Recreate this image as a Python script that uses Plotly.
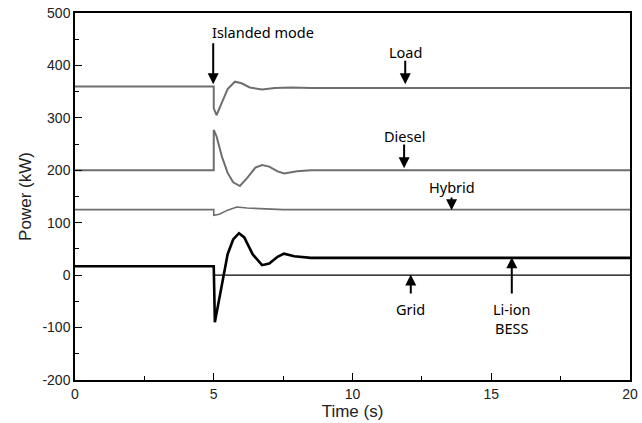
import plotly.graph_objects as go

# ---- data ----
load_t = [0, 5.0, 5.0, 5.1, 5.3, 5.5, 5.76, 6.0, 6.3, 6.74, 7.2, 7.8, 8.5, 20]
load_v = [360, 360, 318, 305, 330, 355, 369, 366, 358, 354, 357, 358, 357, 357]

diesel_t = [0, 5.0, 5.0, 5.1, 5.3, 5.5, 5.7, 5.94, 6.2, 6.5, 6.74, 7.0, 7.3, 7.54, 8.0, 8.5, 20]
diesel_v = [200, 200, 277, 265, 225, 195, 177, 170, 185, 205, 210, 207, 198, 194, 198, 200, 200]

hybrid_t = [0, 5.0, 5.0, 5.2, 5.5, 5.83, 6.2, 6.8, 7.5, 20]
hybrid_v = [125, 125, 114, 116, 124, 130, 128, 126, 125, 125]

bess_t = [0, 5.0, 5.04, 5.2, 5.34, 5.5, 5.7, 5.91, 6.1, 6.4, 6.74, 7.0, 7.3, 7.53, 7.9, 8.5, 20]
bess_v = [17, 17, -90, -45, 0, 40, 68, 80, 72, 40, 19, 22, 35, 41, 36, 33, 33]

grid_t = [0, 5.0, 5.0, 20]
grid_v = [17, 17, 0, 0]

x_ticks = [0, 5, 10, 15, 20]
x_tick_labels = ["0", "5", "10", "15", "20"]
y_ticks = [-200, -100, 0, 100, 200, 300, 400, 500]
y_tick_labels = ["-200", "-100", "0", "100", "200", "300", "400", "500"]

GRAY = "#6e6e6e"
fig = go.Figure()
fig.add_trace(go.Scatter(x=grid_t, y=grid_v, mode="lines", line=dict(color="black", width=1.2), name="Grid"))
fig.add_trace(go.Scatter(x=hybrid_t, y=hybrid_v, mode="lines", line=dict(color=GRAY, width=1.6), name="Hybrid"))
fig.add_trace(go.Scatter(x=diesel_t, y=diesel_v, mode="lines", line=dict(color=GRAY, width=2), name="Diesel"))
fig.add_trace(go.Scatter(x=load_t, y=load_v, mode="lines", line=dict(color=GRAY, width=2), name="Load"))
fig.add_trace(go.Scatter(x=bess_t, y=bess_v, mode="lines", line=dict(color="black", width=2.6), name="Li-ion BESS"))

TXT = dict(family="Noto Sans, sans-serif", size=14.5, color="black")

def arrow(x, y_head, y_tail):
    fig.add_annotation(x=x, y=y_head, ax=x, ay=y_tail, xref="x", yref="y", axref="x", ayref="y",
                       showarrow=True, arrowhead=2, arrowsize=1.1, arrowwidth=2, arrowcolor="black", text="")

def label(x, y, text, xanchor="center", yanchor="middle"):
    fig.add_annotation(x=x, y=y, xref="x", yref="y", text=text, showarrow=False, font=TXT,
                       xanchor=xanchor, yanchor=yanchor)

arrow(4.98, 364, 445)
label(4.88, 464, "Islanded mode", xanchor="left")
arrow(11.9, 364, 412)
label(11.9, 425, "Load")
arrow(11.86, 204, 252)
label(11.86, 265, "Diesel")
arrow(13.57, 124, 151)
label(13.57, 168, "Hybrid")
arrow(12.1, 1, -38)
label(12.1, -42, "Grid", yanchor="top")
arrow(15.74, 34, -38)
label(15.74, -42, "Li-ion<br>BESS", yanchor="top")

AXFONT = dict(family="Liberation Sans, Arial, sans-serif", size=14, color="#222")
AX = dict(showline=True, linecolor="black", linewidth=1.5, mirror=True, ticks="inside",
          tickcolor="black", tickwidth=1.3, showgrid=False, zeroline=False, automargin=False,
          tickfont=AXFONT)

fig.update_xaxes(range=[0, 20], tickvals=x_ticks, ticktext=x_tick_labels, ticklen=7,
                 minor=dict(dtick=2.5, ticks="inside", ticklen=4, tickcolor="black", tickwidth=1.3),
                 title=dict(text="Time (s)", font=dict(family="Liberation Sans, Arial, sans-serif", size=17, color="#222"), standoff=4),
                 **AX)
fig.update_yaxes(range=[-200, 500], tickvals=y_ticks, ticktext=y_tick_labels, ticklen=7,
                 minor=dict(dtick=50, ticks="inside", ticklen=4, tickcolor="black", tickwidth=1.3),
                 title=dict(text="Power (kW)", font=dict(family="Liberation Sans, Arial, sans-serif", size=17, color="#222"), standoff=6),
                 **AX)

fig.update_layout(width=642, height=423, margin=dict(l=75, r=12, t=13, b=43),
                  plot_bgcolor="white", paper_bgcolor="white", showlegend=False)

fig.write_html("out.html", config={"displayModeBar": False},
               post_script="document.body.style.margin='0';document.body.style.overflow='hidden';")
